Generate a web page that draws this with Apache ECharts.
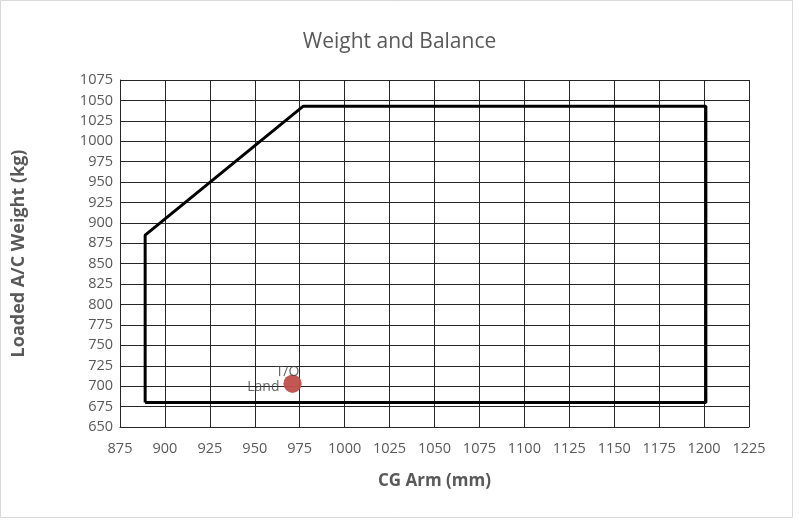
<!DOCTYPE html>
<html><head><meta charset="utf-8">
<script src="https://cdn.jsdelivr.net/npm/echarts@6/dist/echarts.min.js"></script>
<style>html,body{margin:0;padding:0;background:#fff}#c{width:799px;height:520px}</style>
</head><body><div id="c"></div>
<script>
const envelopeX = [889, 889, 977, 1201, 1201, 889];
const envelopeY = [680, 885, 1043, 1043, 680, 680];
const pointNames = ['T/O', 'Land'];
const pointX = [971, 971];
const pointY = [703, 703];
const xMin = 875, xMax = 1225, xStep = 25;
const yMin = 650, yMax = 1075, yStep = 25;

const font = '"Open Sans", Lato, sans-serif';
const chart = echarts.init(document.getElementById('c'));
chart.setOption({
  animation: false,
  title: { text: 'Weight and Balance', left: 'center', top: 27,
    textStyle: { fontFamily: font, fontSize: 21, fontWeight: 'normal', color: '#595959' } },
  graphic: [{ type: 'rect', shape: { x: 0.5, y: 0.5, width: 792, height: 517 },
    style: { fill: 'none', stroke: '#d9d9d9', lineWidth: 1 }, silent: true }],
  grid: { left: 120, right: 50, top: 80, bottom: 93 },
  xAxis: {
    type: 'value', min: xMin, max: xMax, interval: xStep,
    name: 'CG Arm (mm)', nameLocation: 'middle', nameGap: 46,
    nameTextStyle: { fontFamily: font, fontSize: 17, fontWeight: 'bold', color: '#595959' },
    axisLine: { lineStyle: { color: '#262626', width: 1 } },
    axisTick: { show: false },
    axisLabel: { fontFamily: font, fontSize: 14.5, color: '#595959', margin: 14, formatter: v => String(v) },
    splitLine: { show: true, lineStyle: { color: '#262626', width: 1 } }
  },
  yAxis: {
    type: 'value', min: yMin, max: yMax, interval: yStep,
    name: 'Loaded A/C Weight (kg)', nameLocation: 'middle', nameGap: 92, nameRotate: 90,
    nameTextStyle: { fontFamily: font, fontSize: 18, fontWeight: 'bold', color: '#595959' },
    axisLine: { show: true, lineStyle: { color: '#262626', width: 1 } },
    axisTick: { show: false },
    axisLabel: { fontFamily: font, fontSize: 14.5, color: '#595959', margin: 7, formatter: v => String(v) },
    splitLine: { show: true, lineStyle: { color: '#262626', width: 1 } }
  },
  series: [
    { type: 'line', data: envelopeX.map((x, i) => [x, envelopeY[i]]),
      symbol: 'none', lineStyle: { color: '#000', width: 3 }, z: 3 },
    { type: 'scatter', data: pointX.map((x, i) => ({ name: pointNames[i], value: [x, pointY[i]],
        label: i === 0 ? { position: 'top', offset: [-5, 9] } : { position: 'left', offset: [1, 3] } })),
      symbolSize: 18, itemStyle: { color: '#C0504D' }, z: 4,
      label: { show: true, formatter: p => p.name, fontFamily: font, fontSize: 14, color: '#404040' } }
  ]
});
</script></body></html>
